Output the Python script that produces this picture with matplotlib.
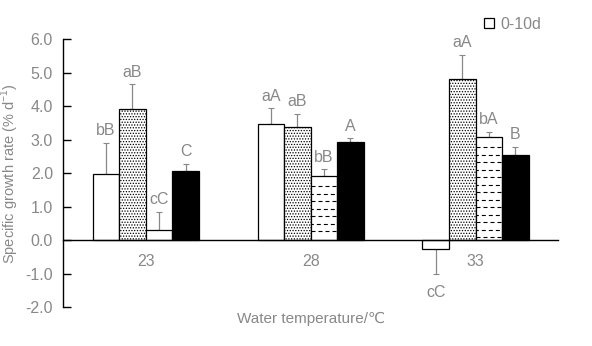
import numpy as np
import matplotlib
matplotlib.use('Agg')
import matplotlib.pyplot as plt

plt.rcParams['font.family'] = ['Liberation Sans', 'DejaVu Sans']
plt.rcParams['hatch.linewidth'] = 0.6

# data
temps = ['23', '28', '33']
legend_label = '0-10d'
s1 = [1.97, 3.48, -0.27]
s1_err = [0.93, 0.46, 0.75]
s1_lab = ['bB', 'aA', 'cC']
s2 = [3.92, 3.37, 4.81]
s2_err = [0.74, 0.41, 0.73]
s2_lab = ['aB', 'aB', 'aA']
s3 = [0.30, 1.91, 3.08]
s3_err = [0.55, 0.20, 0.15]
s3_lab = ['cC', 'bB', 'bA']
s4 = [2.07, 2.94, 2.55]
s4_err = [0.20, 0.10, 0.24]
s4_lab = ['C', 'A', 'B']

gray = '#888888'
fs = 11.5

fig = plt.figure(figsize=(5.92, 3.46), dpi=100)
ax = fig.add_axes([63.3/592, 39/346, 494.7/592, 267.7/346])

x = np.arange(len(temps))
w = 0.161
series = [(s1, s1_err, s1_lab, 'white', ''),
          (s2, s2_err, s2_lab, 'white', '......'),
          (s3, s3_err, s3_lab, 'white', ''),
          (s4, s4_err, s4_lab, 'black', '')]

bars_all = []
for i, (vals, errs, labs, fc, hatch) in enumerate(series):
    xs = x + (i - 1.5) * w
    vals = np.array(vals)
    errs = np.array(errs)
    lower = np.where(vals < 0, errs, 0)
    upper = np.where(vals >= 0, errs, 0)
    ax.errorbar(xs, vals, yerr=[lower, upper], fmt='none', ecolor=gray,
                elinewidth=0.9, capsize=2, capthick=0.8, zorder=1)
    bars = ax.bar(xs, vals, w, color=fc, edgecolor='black', linewidth=0.9,
                  hatch=hatch, zorder=2)
    bars_all.append(bars)
    # letters
    for xi, v, e, t in zip(xs, vals, errs, labs):
        if v >= 0:
            ax.annotate(t, (xi, v + e), xytext=(0, 5.5), textcoords='offset points',
                        ha='center', va='baseline', color=gray, fontsize=fs)
        else:
            ax.annotate(t, (xi, v - e), xytext=(0, -7.5), textcoords='offset points',
                        ha='center', va='top', color=gray, fontsize=fs)

# dashed fill for the third series
for k, b in enumerate(bars_all[2]):
    x0 = b.get_x()
    top = b.get_y() + b.get_height()
    rows = np.arange(top - 0.3, 0.05, -0.224)
    for j, yy in enumerate(rows):
        ln, = ax.plot([x0, x0 + w], [yy, yy], color='black', lw=0.8,
                      linestyle=(1.5 * (j % 2), (3.6, 2.7)), zorder=3)
        ln.set_clip_path(b)

ax.set_xlim(-0.5, 2.5)
ax.set_ylim(-2, 6)
yt = np.arange(-2, 6.1, 1.0)
ax.set_yticks(yt)
ax.set_yticklabels([f'{v:.1f}' for v in yt])
ax.set_xticks(x)
ax.set_xticklabels(temps)
ax.tick_params(axis='y', direction='in', length=6, width=1, pad=7.5,
               labelcolor=gray, labelsize=fs)
ax.tick_params(axis='x', length=0, pad=10, labelcolor=gray, labelsize=fs)

ax.spines['top'].set_visible(False)
ax.spines['right'].set_visible(False)
ax.spines['bottom'].set_position(('data', 0))
ax.spines['bottom'].set_linewidth(1)
ax.spines['left'].set_linewidth(1)

ax.set_xlabel('Water temperature/\u2103', color=gray, fontsize=11)
ax.xaxis.set_label_coords(0.5, -0.02)
ax.set_ylabel('Specific growth rate (% d$^{\\mathregular{-1}}$)', color=gray, fontsize=10.5)
ax.yaxis.set_label_coords(-0.085, 0.5)

leg = ax.legend([bars_all[0][0]], [legend_label], loc='upper left',
                bbox_to_anchor=(484/592, 1 - 17/346), bbox_transform=fig.transFigure,
                frameon=False, fontsize=fs, handlelength=0.6, handleheight=0.6,
                handletextpad=0.4, borderpad=0, borderaxespad=0)
for t in leg.get_texts():
    t.set_color(gray)

fig.savefig('out.png', dpi=100)
